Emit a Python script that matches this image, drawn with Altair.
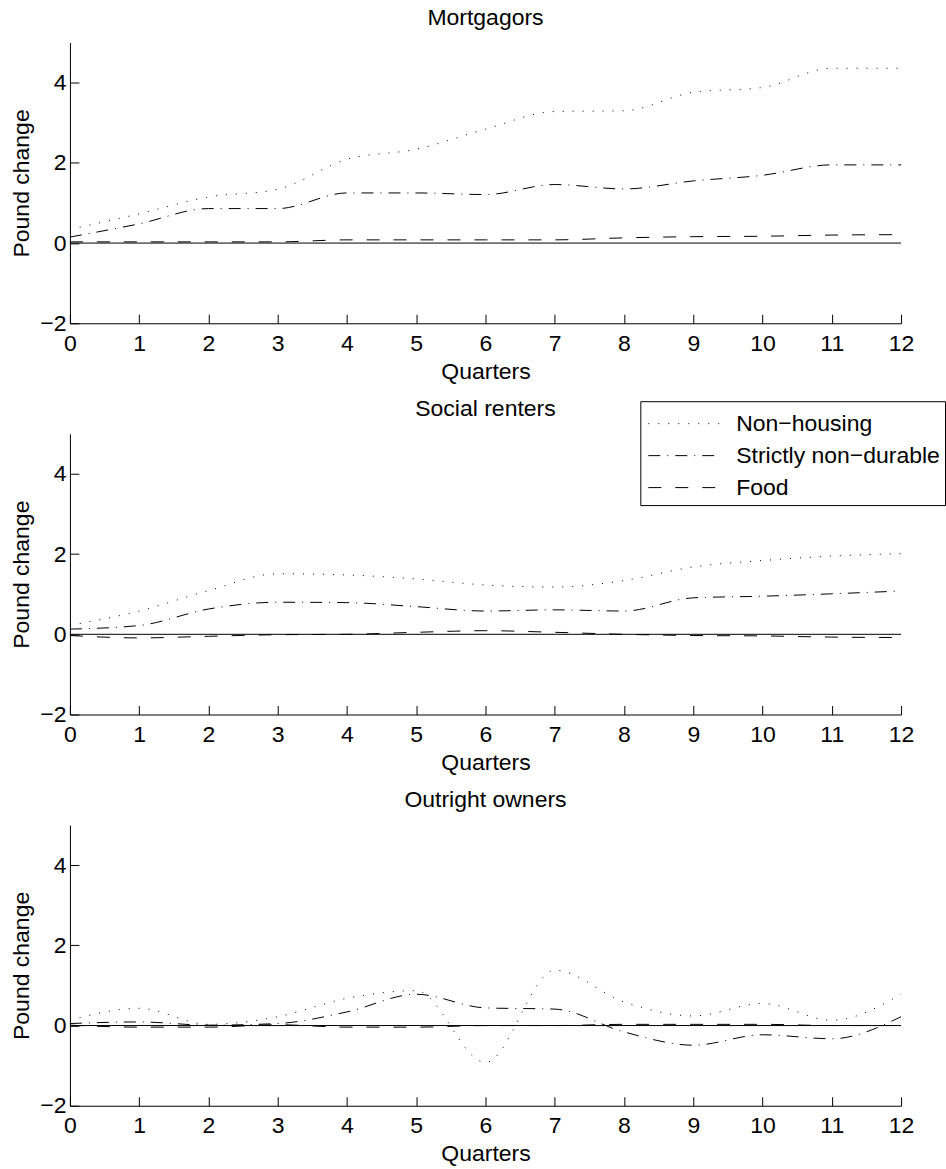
import altair as alt
import pandas as pd

# ---- data ----
quarters = list(range(13))
series_names = ["Non−housing", "Strictly non−durable", "Food"]
panel_titles = ["Mortgagors", "Social renters", "Outright owners"]

mort_nonhousing = [0.34, 0.73, 1.15, 1.34, 2.09, 2.34, 2.84, 3.28, 3.30, 3.76, 3.88, 4.36, 4.36]
mort_strict = [0.15, 0.48, 0.86, 0.86, 1.25, 1.25, 1.21, 1.46, 1.35, 1.55, 1.69, 1.95, 1.95]
mort_food = [0.03, 0.03, 0.03, 0.03, 0.08, 0.08, 0.08, 0.08, 0.13, 0.16, 0.17, 0.20, 0.21]

social_nonhousing = [0.22, 0.58, 1.09, 1.51, 1.48, 1.38, 1.23, 1.18, 1.34, 1.68, 1.84, 1.95, 2.01]
social_strict = [0.13, 0.22, 0.63, 0.80, 0.79, 0.69, 0.58, 0.61, 0.58, 0.91, 0.95, 1.01, 1.08]
social_food = [-0.03, -0.09, -0.05, -0.01, 0.00, 0.05, 0.09, 0.05, 0.00, -0.03, -0.04, -0.07, -0.08]

outright_nonhousing = [0.13, 0.43, 0.03, 0.22, 0.68, 0.87, -0.92, 1.38, 0.59, 0.24, 0.55, 0.13, 0.78]
outright_strict = [0.05, 0.09, 0.01, 0.05, 0.34, 0.78, 0.44, 0.41, -0.16, -0.49, -0.23, -0.33, 0.22]
outright_food = [0.01, -0.04, -0.04, 0.02, -0.04, -0.04, 0.00, 0.00, 0.03, 0.03, 0.03, 0.00, 0.00]

y_ticks = [-2, 0, 2, 4]
y_domain = [-2, 5]
x_domain = [0, 12]
zero_level = [0]

FONT = "Liberation Sans"
FS = 23


def panel_df(values_by_series):
    rows = []
    for name, vals in zip(series_names, values_by_series):
        for q, v in zip(quarters, vals):
            rows.append({"quarter": q, "series": name, "value": v})
    return pd.DataFrame(rows)


dash_scale = alt.Scale(domain=series_names, range=[[1, 9], [12, 7, 1, 7], [13, 14]])

x_enc = alt.X(
    "quarter:Q",
    scale=alt.Scale(domain=x_domain, nice=False, zero=False),
    axis=alt.Axis(values=quarters, format="d", title="Quarters", labelPadding=18,
                  titlePadding=5, tickSize={"expr": "-9"}, labelFlush=False),
)
y_enc = alt.Y(
    "value:Q",
    scale=alt.Scale(domain=y_domain, nice=False, zero=False),
    axis=alt.Axis(values=y_ticks, format="d", title="Pound change", labelPadding=13,
                  titlePadding=6, tickSize={"expr": "-9"}, labelFlush=False),
)


def make_panel(title, values_by_series, show_legend):
    if show_legend:
        legend = alt.Legend(
            title=None, orient="none", legendX=571, legendY=359,
            symbolType="M-2.1,0L2.1,0", symbolSize=1143, symbolStrokeWidth=1,
            symbolStrokeColor="black", symbolOffset=21, labelOffset=35,
            padding=5, rowPadding=2, strokeColor="black", fillColor="white",
            labelFont=FONT, labelFontSize=FS, labelColor="black", labelLimit=0,
        )
    else:
        legend = None
    data = panel_df(values_by_series)
    lines = alt.Chart(data).mark_line(color="black", strokeWidth=1, interpolate="monotone").encode(
        x=x_enc,
        y=y_enc,
        strokeDash=alt.StrokeDash("series:N", scale=dash_scale, legend=legend),
    )
    zero = alt.Chart(pd.DataFrame({"value": zero_level})).mark_rule(color="black", strokeWidth=1).encode(
        y=y_enc
    )
    return alt.layer(zero, lines).properties(
        width=832, height=281,
        title=alt.TitleParams(title, frame="group", baseline="alphabetic", offset=-5,
                              fontSize=FS, font=FONT, fontWeight="normal", anchor="middle",
                              color="black"),
    )


p1 = make_panel(panel_titles[0], [mort_nonhousing, mort_strict, mort_food], True)
p2 = make_panel(panel_titles[1], [social_nonhousing, social_strict, social_food], False)
p3 = make_panel(panel_titles[2], [outright_nonhousing, outright_strict, outright_food], False)

chart = (
    alt.vconcat(p1, p2, p3, spacing=110.65, bounds="flush")
    .resolve_scale(strokeDash="independent")
    .resolve_legend(strokeDash="independent")
    .properties(padding={"left": 10, "top": 6, "right": 0, "bottom": 0})
    .configure_view(stroke=None)
    .configure_axis(
        domainColor="black", tickColor="black", labelColor="black", titleColor="black",
        labelFont=FONT, titleFont=FONT, labelFontSize=FS, titleFontSize=FS,
        titleFontWeight="normal", grid=False, domainWidth=1, tickWidth=1,
    )
)

chart.save("out.html", embed_options={"renderer": "svg", "actions": False})
